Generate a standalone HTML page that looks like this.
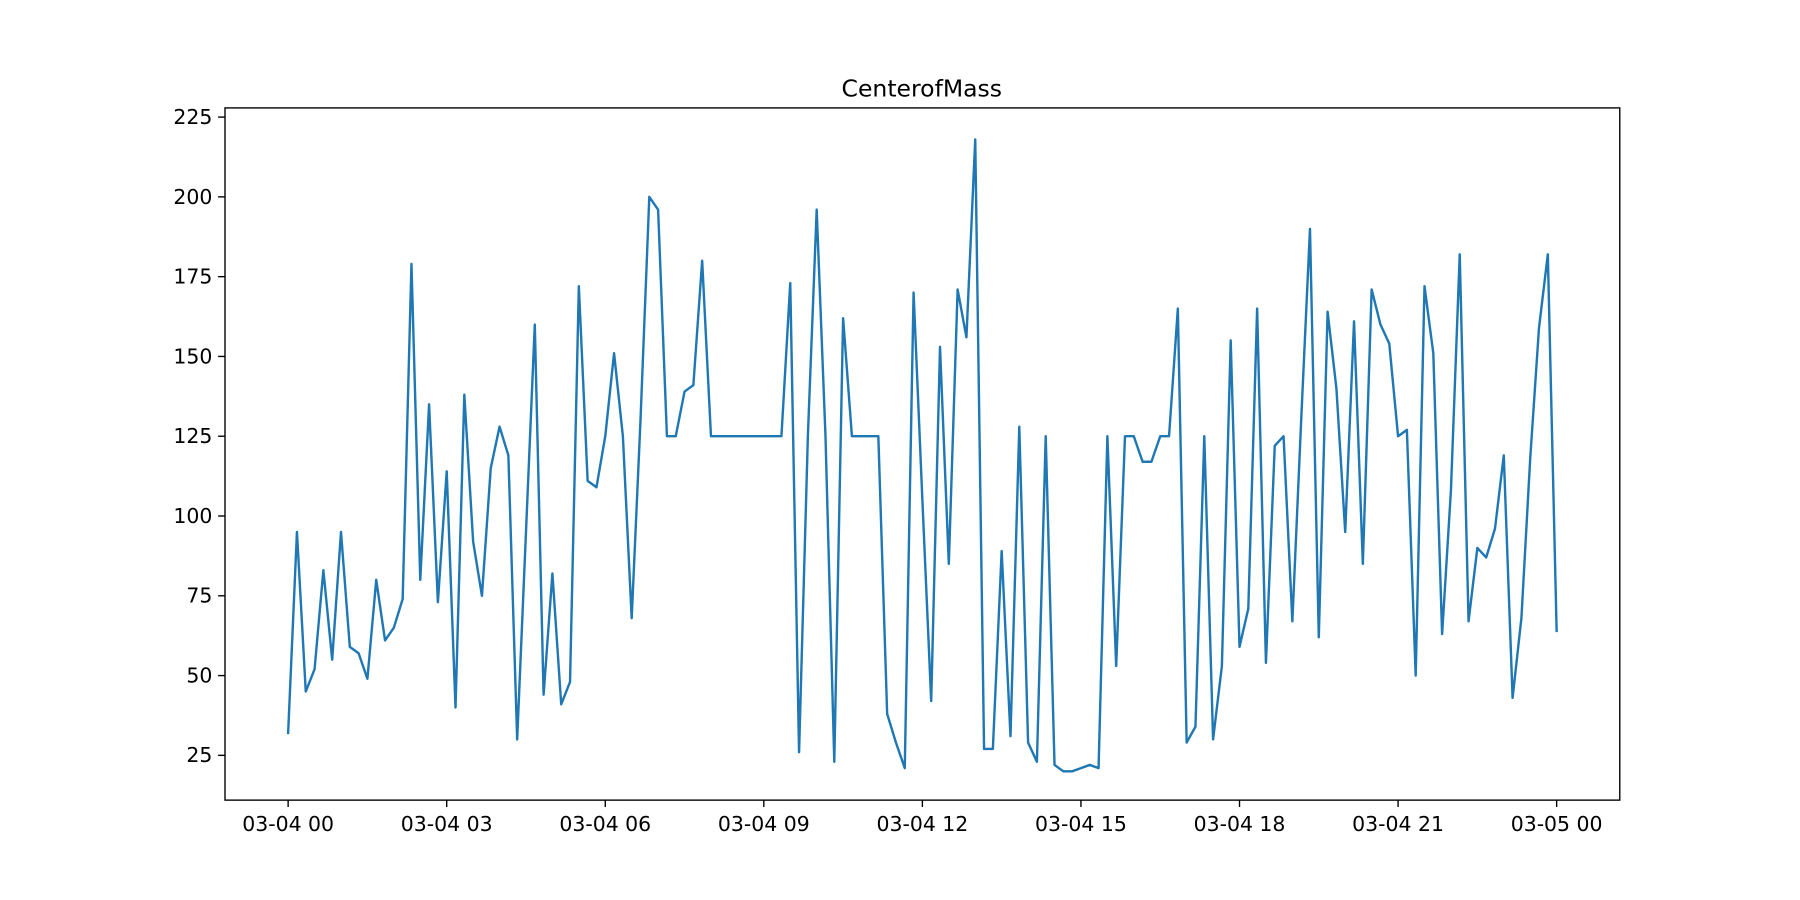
<!DOCTYPE html>
<html><head><meta charset="utf-8"><style>
html,body{margin:0;padding:0;background:#fff;}
svg{display:block;font-family:"DejaVu Sans","Liberation Sans",sans-serif;}
</style></head><body>
<svg id="chart" width="1800" height="900" viewBox="0 0 1568 784">
<rect x="0" y="0" width="1568" height="784" fill="#fff"/>
<text x="803" y="84" font-size="20.5" text-anchor="middle" fill="#000">CenterofMass</text>
<g id="xticks"></g>
<g id="yticks"></g>
<path id="line" fill="none" stroke="#1f77b4" stroke-width="2.1" stroke-linejoin="round" stroke-linecap="square"/>
<rect x="196" y="94" width="1215" height="603" fill="none" stroke="#000" stroke-width="1.2"/>
</svg>
<script>
const values = [32,95,45,52,83,55,95,59,57,49,80,61,65,74,179,80,135,73,114,40,138,92,75,115,128,119,30,95,160,44,82,41,48,172,111,109,125,151,125,68,130,200,196,125,125,139,141,180,125,125,125,125,125,125,125,125,125,173,26,125,196,125,23,162,125,125,125,125,38,29,21,170,105,42,153,85,171,156,218,27,27,89,31,128,29,23,125,22,20,20,21,22,21,125,53,125,125,117,117,125,125,165,29,34,125,30,53,155,59,71,165,54,122,125,67,130,190,62,164,140,95,161,85,171,160,154,125,127,50,172,151,63,108,182,67,90,87,96,119,43,68,118,159,182,64];
const xTickHours = [0,3,6,9,12,15,18,21,24];
const xTickLabels = ["03-04 00","03-04 03","03-04 06","03-04 09","03-04 12","03-04 15","03-04 18","03-04 21","03-05 00"];
const yTicks = [25,50,75,100,125,150,175,200,225];
const stepMinutes = 10;

const NS = "http://www.w3.org/2000/svg";
function xScale(hours){ return 251 + (hours/24)*1105; }
function yScale(v){ return 658 - (v-25)*2.78; }

const line = document.getElementById('line');
line.setAttribute('d', values.map((v,i)=>(i?'L':'M')+xScale(i*stepMinutes/60).toFixed(2)+' '+yScale(v).toFixed(2)).join(' '));

const xg = document.getElementById('xticks');
xTickHours.forEach((h,i)=>{
  const x = xScale(h);
  const t = document.createElementNS(NS,'line');
  t.setAttribute('x1',x);t.setAttribute('x2',x);t.setAttribute('y1',697);t.setAttribute('y2',703);
  t.setAttribute('stroke','#000');t.setAttribute('stroke-width','1.2');
  
  
  xg.appendChild(t);
  const lb = document.createElementNS(NS,'text');
  lb.setAttribute('x',x);lb.setAttribute('y',724);lb.setAttribute('font-size','17.8');
  lb.setAttribute('text-anchor','middle');lb.textContent = xTickLabels[i];
  
  
  xg.appendChild(lb);
});
const yg = document.getElementById('yticks');
yTicks.forEach(v=>{
  const y = yScale(v);
  const t = document.createElementNS(NS,'line');
  t.setAttribute('x1',190);t.setAttribute('x2',196);t.setAttribute('y1',y);t.setAttribute('y2',y);
  t.setAttribute('stroke','#000');t.setAttribute('stroke-width','1.2');
  
  
  yg.appendChild(t);
  const lb = document.createElementNS(NS,'text');
  lb.setAttribute('x',185);lb.setAttribute('y',y+6);lb.setAttribute('font-size','17.8');
  lb.setAttribute('text-anchor','end');lb.textContent = v;
  
  
  yg.appendChild(lb);
});
</script>
</body></html>
